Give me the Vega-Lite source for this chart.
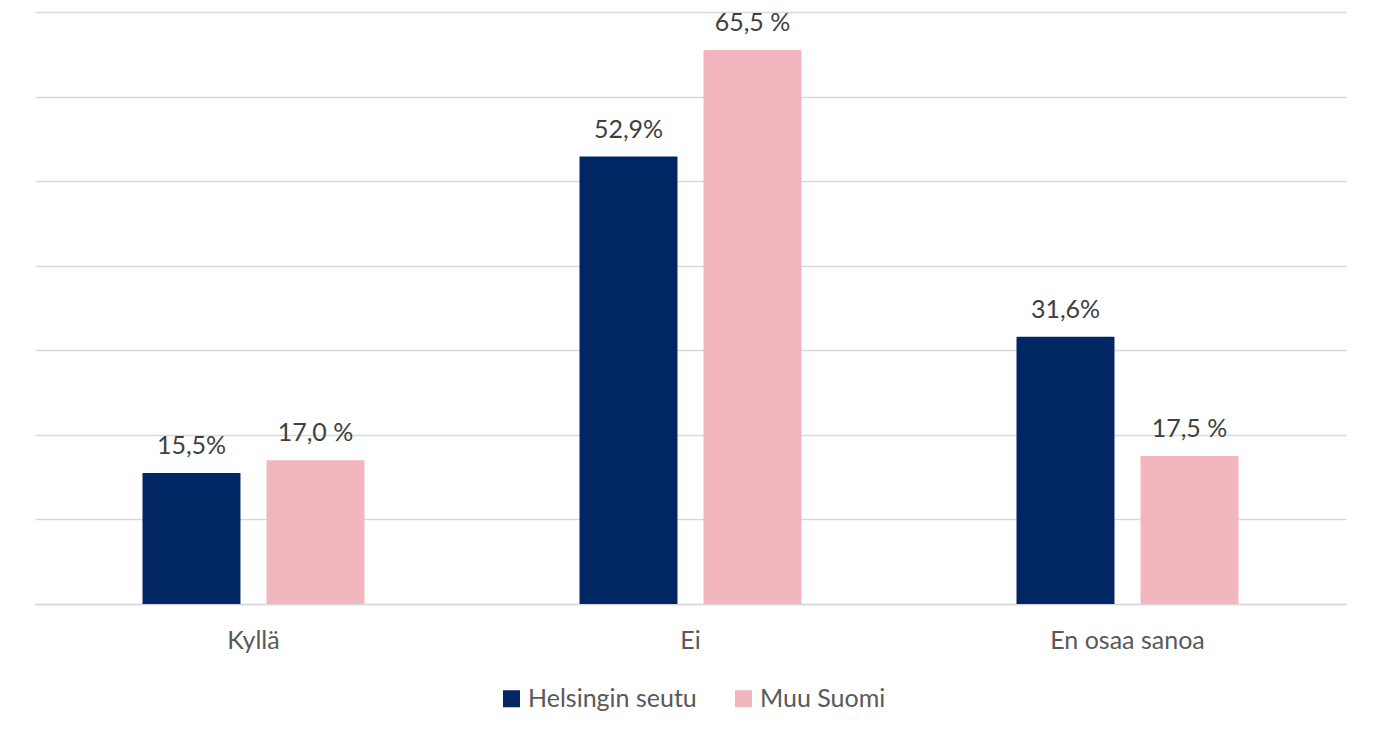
{
  "$schema": "https://vega.github.io/schema/vega-lite/v6.json",
  "width": 1311,
  "height": 592,
  "autosize": {"type": "none"},
  "padding": {"left": 35, "top": 12, "right": 34, "bottom": 131},
  "background": "#ffffff",
  "config": {
    "view": {"stroke": null},
    "font": "Lato"
  },
  "data": {
    "values": [
      {"vastaus": "Kyllä", "alue": "Helsingin seutu", "arvo": 15.5, "teksti": "15,5%"},
      {"vastaus": "Kyllä", "alue": "Muu Suomi", "arvo": 17.0, "teksti": "17,0 %"},
      {"vastaus": "Ei", "alue": "Helsingin seutu", "arvo": 52.9, "teksti": "52,9%"},
      {"vastaus": "Ei", "alue": "Muu Suomi", "arvo": 65.5, "teksti": "65,5 %"},
      {"vastaus": "En osaa sanoa", "alue": "Helsingin seutu", "arvo": 31.6, "teksti": "31,6%"},
      {"vastaus": "En osaa sanoa", "alue": "Muu Suomi", "arvo": 17.5, "teksti": "17,5 %"}
    ]
  },
  "encoding": {
    "x": {
      "field": "vastaus",
      "type": "nominal",
      "sort": ["Kyllä", "Ei", "En osaa sanoa"],
      "scale": {"paddingInner": 0.492, "paddingOuter": 0.246},
      "axis": {
        "title": null,
        "labelAngle": 0,
        "labelFont": "Lato",
        "labelFontSize": 25,
        "labelColor": "#595959",
        "labelPadding": 24,
        "ticks": false,
        "domain": true,
        "domainColor": "#d9d9d9",
        "domainWidth": 1.5
      }
    },
    "xOffset": {
      "field": "alue",
      "type": "nominal",
      "sort": ["Helsingin seutu", "Muu Suomi"],
      "scale": {"paddingInner": 0.21, "paddingOuter": 0}
    },
    "y": {
      "field": "arvo",
      "type": "quantitative",
      "scale": {"domain": [0, 70], "nice": false},
      "axis": {
        "title": null,
        "values": [0, 10, 20, 30, 40, 50, 60, 70],
        "labels": false,
        "ticks": false,
        "domain": false,
        "grid": true,
        "gridColor": "#d9d9d9",
        "gridWidth": 1.5
      }
    }
  },
  "layer": [
    {
      "mark": {"type": "bar"},
      "encoding": {
        "color": {
          "field": "alue",
          "type": "nominal",
          "sort": ["Helsingin seutu", "Muu Suomi"],
          "scale": {"domain": ["Helsingin seutu", "Muu Suomi"], "range": ["#002663", "#f2b6bf"]},
          "legend": {
            "title": null,
            "orient": "none",
            "direction": "horizontal",
            "legendX": 464,
            "legendY": 674,
            "symbolType": "square",
            "symbolSize": 290,
            "symbolStrokeWidth": 0,
            "labelFont": "Lato",
            "labelFontSize": 25,
            "labelColor": "#595959",
            "labelOffset": 4,
            "labelLimit": 0,
            "columnPadding": 34
          }
        }
      }
    },
    {
      "mark": {"type": "text", "baseline": "alphabetic", "dy": -19, "font": "Lato", "fontSize": 25, "color": "#404040"},
      "encoding": {
        "text": {"field": "teksti"}
      }
    }
  ]
}
